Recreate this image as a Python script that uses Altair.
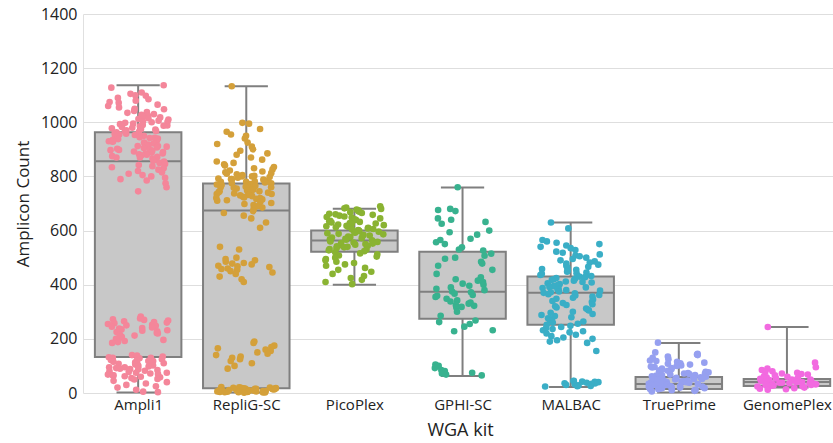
import altair as alt
import pandas as pd

kits = ["Ampli1", "RepliG-SC", "PicoPlex", "GPHI-SC", "MALBAC", "TruePrime", "GenomePlex"]
colors = ["#f4869a", "#d4a03a", "#8ab332", "#38b28f", "#3aaec6", "#96a0f0", "#f26ae0"]

# box statistics
whisk_lo = [2, 2, 400, 63, 22, 2, 20]
q1 = [133, 18, 522, 274, 252, 15, 26]
median = [856, 674, 563, 374, 370, 33, 41]
q3 = [963, 774, 600, 522, 430, 59, 52]
whisk_hi = [1137, 1133, 681, 759, 630, 185, 244]

ampli1 = [1137, 1128, 1110, 1105, 1100, 1098, 1090, 1085, 1080, 1075, 1072, 1065, 1060, 1055, 1050,
          1048, 1042, 1038, 1035, 1030, 1028, 1025, 1020, 1018, 1015, 1012, 1010, 1006, 1003, 1002,
          1000, 998, 995, 993, 990, 988, 987, 985, 983, 980, 978, 975, 973, 970, 968, 968, 965, 963,
          960, 958, 955, 955, 953, 950, 948, 945, 943, 942, 940, 938, 935, 933, 930, 930, 928, 925,
          922, 920, 918, 915, 912, 912, 910, 907, 905, 902, 900, 898, 897, 895, 892, 890, 888, 885,
          884, 882, 880, 878, 875, 872, 870, 870, 866, 862, 858, 855, 850, 846, 842, 838, 834, 830,
          825, 820, 815, 810, 805, 800, 795, 790, 785, 775, 760, 745,
          282, 275, 272, 270, 268, 265, 262, 260, 258, 255, 252, 250, 248, 245, 242, 240, 238, 235,
          232, 230, 228, 225, 222, 220, 216, 212, 208, 205, 200, 196, 192, 188, 185,
          140, 138, 135, 132, 130, 130, 128, 125, 122, 120, 118, 118, 115, 112, 110, 110, 108, 105,
          105, 102, 100, 98, 95, 95, 92, 90, 88, 88, 85, 82, 80, 78, 75, 75, 72, 70, 68, 65, 65, 62,
          60, 58, 55, 52, 50, 45, 40, 35, 30, 25, 20, 12, 5, 3]
replig = [1133, 998, 995, 975, 965, 955, 950, 940, 925, 920, 910, 900, 895, 885, 880, 870, 862, 855,
          850, 845, 840, 835, 830, 826, 822, 818, 815, 812, 810, 808, 805, 802, 800, 800, 798, 795,
          792, 790, 790, 788, 785, 782, 780, 780, 778, 775, 775, 772, 770, 768, 765, 765, 762, 760,
          760, 758, 755, 752, 750, 748, 745, 745, 742, 740, 737, 735, 735, 732, 730, 727, 725, 722,
          720, 720, 717, 715, 712, 710, 706, 702, 698, 694, 690, 685, 680, 672, 665, 655, 645, 630, 610,
          540, 530, 500, 495, 490, 485, 480, 478, 475, 470, 468, 465, 460, 458, 455, 450, 445, 440,
          430, 420, 410,
          190, 185, 175, 170, 165, 160, 155, 150, 145, 140, 135, 130, 125, 118, 110, 100, 90,
          22, 21, 20, 19, 19, 18, 17, 17, 16, 15, 15, 14, 13, 13, 12, 11, 11, 10, 10, 9, 9, 8, 8, 7,
          7, 6, 6, 5, 5, 4, 4, 3, 3, 2, 2, 1]
picoplex = [690, 685, 682, 680, 678, 675, 672, 670, 668, 665, 662, 660, 658, 655, 652, 650, 648, 645,
            642, 640, 638, 636, 634, 632, 630, 628, 626, 624, 622, 620, 618, 616, 614, 612, 610, 608,
            606, 604, 602, 600, 598, 596, 594, 592, 590, 588, 586, 584, 582, 580, 578, 576, 574, 572,
            570, 568, 566, 564, 562, 560, 558, 556, 554, 552, 550, 548, 546, 544, 542, 540, 538, 535,
            532, 530, 527, 524, 520, 516, 512, 508, 504, 500, 495, 490, 485, 480, 475, 470, 462, 455,
            448, 440, 432, 425, 418, 410, 402]
gphi = [760, 680, 676, 672, 645, 640, 632, 625, 600, 594, 585, 570, 565, 557, 550, 538, 530, 526, 515,
        507, 500, 496, 485, 478, 470, 455, 440, 427, 420, 415, 410, 404, 400, 396, 390, 385, 380, 375,
        372, 367, 362, 359, 355, 348, 342, 338, 334, 330, 325, 322, 318, 316, 300, 285, 268, 262, 255,
        245, 232, 228, 105, 100, 92, 85, 81, 75, 72, 68, 65]
malbac = [630, 608, 565, 560, 555, 550, 545, 540, 535, 528, 522, 518, 512, 508, 505, 500, 495, 490,
          486, 482, 478, 474, 470, 466, 462, 458, 455, 452, 448, 445, 442, 440, 436, 432, 430, 428,
          425, 422, 420, 418, 415, 412, 410, 408, 405, 402, 400, 398, 395, 392, 390, 388, 385, 382,
          380, 378, 375, 372, 370, 368, 365, 362, 360, 356, 352, 348, 345, 340, 336, 332, 328, 325,
          320, 316, 312, 308, 305, 300, 296, 292, 288, 284, 280, 276, 272, 268, 264, 260, 256, 252,
          248, 244, 240, 236, 232, 228, 224, 220, 215, 210, 205, 200, 195, 190, 185, 155,
          45, 44, 42, 41, 40, 38, 36, 35, 34, 32, 30, 28, 26, 25, 24]
trueprime = [186, 150, 145, 142, 140, 135, 130, 125, 120, 118, 115, 112, 110, 108, 105, 102, 100, 98,
             96, 94, 92, 90, 88, 86, 84, 82, 80, 78, 76, 74, 72, 72, 70, 68, 66, 65, 64, 62, 60, 60,
             58, 56, 55, 54, 52, 52, 50, 50, 48, 48, 46, 45, 44, 42, 42, 40, 40, 38, 38, 36, 35, 34,
             33, 32, 30, 30, 28, 28, 26, 25, 24, 22, 22, 20, 20, 18, 18, 16, 15, 14, 12, 10, 10, 8, 6]
genomeplex = [244, 112, 95, 90, 85, 80, 78, 75, 72, 70, 68, 65, 62, 60, 58, 56, 55, 54, 52, 50, 50,
              48, 48, 46, 45, 44, 42, 42, 40, 40, 38, 38, 36, 35, 34, 33, 32, 30, 30, 28, 28, 26, 25,
              24, 22, 20, 18, 16, 14, 12]

series = [ampli1, replig, picoplex, gphi, malbac, trueprime, genomeplex]

pts = pd.DataFrame(
    [{"kit": k, "idx": i, "value": v} for i, (k, vals) in enumerate(zip(kits, series)) for v in vals]
)
stats = pd.DataFrame({"kit": kits, "idx": list(range(len(kits))), "lo": whisk_lo, "q1": q1,
                      "med": median, "q3": q3, "hi": whisk_hi})

FONT = "Open Sans"
label_expr = "[" + ",".join('"%s"' % k for k in kits) + "][datum.value]"

xscale = alt.Scale(domain=[-0.51, 6.5], range=[0, 758], nice=False, zero=False)
yscale = alt.Scale(domain=[0, 1400], nice=False)

x_axis = alt.Axis(values=list(range(7)), labelExpr=label_expr, title="WGA kit", ticks=False,
                  domain=False, grid=False, labelFontSize=15, titleFontSize=18, labelFont=FONT,
                  titleFont=FONT, labelColor="#222222", titleColor="#222222", titleFontWeight="normal",
                  labelPadding=4, titlePadding=9, titleX=377)
y_axis = alt.Axis(values=list(range(0, 1401, 200)), format="d", title="Amplicon Count", ticks=False,
                  domain=True, domainColor="#e0e0e0", gridColor="#dedede", gridWidth=1,
                  labelFontSize=16, titleFontSize=17, labelFont=FONT, titleFont=FONT,
                  labelColor="#222222", titleColor="#222222", titleFontWeight="normal",
                  labelPadding=6, titlePadding=8)

base = alt.Chart(stats).transform_calculate(
    xl="datum.idx - 0.4", xr="datum.idx + 0.4", cl="datum.idx - 0.2", cr="datum.idx + 0.2"
)

boxes = base.mark_rect(fill="#c8c8c8", stroke="#7f7f7f", strokeWidth=2).encode(
    x=alt.X("xl:Q", scale=xscale, axis=x_axis),
    x2="xr:Q",
    y=alt.Y("q1:Q", scale=yscale, axis=y_axis),
    y2="q3:Q",
)
whisk_low = base.mark_rule(color="#7f7f7f", strokeWidth=2).encode(
    x=alt.X("idx:Q", scale=xscale), y=alt.Y("lo:Q", scale=yscale), y2="q1:Q")
whisk_high = base.mark_rule(color="#7f7f7f", strokeWidth=2).encode(
    x=alt.X("idx:Q", scale=xscale), y=alt.Y("q3:Q", scale=yscale), y2="hi:Q")
cap_low = base.mark_rule(color="#7f7f7f", strokeWidth=2).encode(
    x=alt.X("cl:Q", scale=xscale), x2="cr:Q", y=alt.Y("lo:Q", scale=yscale))
cap_high = base.mark_rule(color="#7f7f7f", strokeWidth=2).encode(
    x=alt.X("cl:Q", scale=xscale), x2="cr:Q", y=alt.Y("hi:Q", scale=yscale))
med_line = base.mark_rule(color="#7f7f7f", strokeWidth=2).encode(
    x=alt.X("xl:Q", scale=xscale), x2="xr:Q", y=alt.Y("med:Q", scale=yscale))

# deterministic strip-plot jitter (horizontal spread only)
points = alt.Chart(pts).transform_window(
    rn="row_number()", groupby=["kit"]
).transform_calculate(
    h="abs(sin(datum.rn * 12.9898 + datum.idx * 78.233) * 43758.5453) % 1",
    xj="datum.idx + (datum.h - 0.5) * 0.56",
).mark_circle(size=44, opacity=1).encode(
    x=alt.X("xj:Q", scale=xscale),
    y=alt.Y("value:Q", scale=yscale),
    color=alt.Color("kit:N", scale=alt.Scale(domain=kits, range=colors), legend=None),
)

chart = alt.layer(boxes, whisk_low, whisk_high, cap_low, cap_high, med_line, points).properties(
    width=750, height=379,
    autosize=alt.AutoSizeParams(type="none"),
    padding={"left": 83, "top": 14, "right": 0, "bottom": 50},
    background="white",
).configure_view(stroke=None)

chart.save("out.html", embed_options={"renderer": "svg", "actions": False})
